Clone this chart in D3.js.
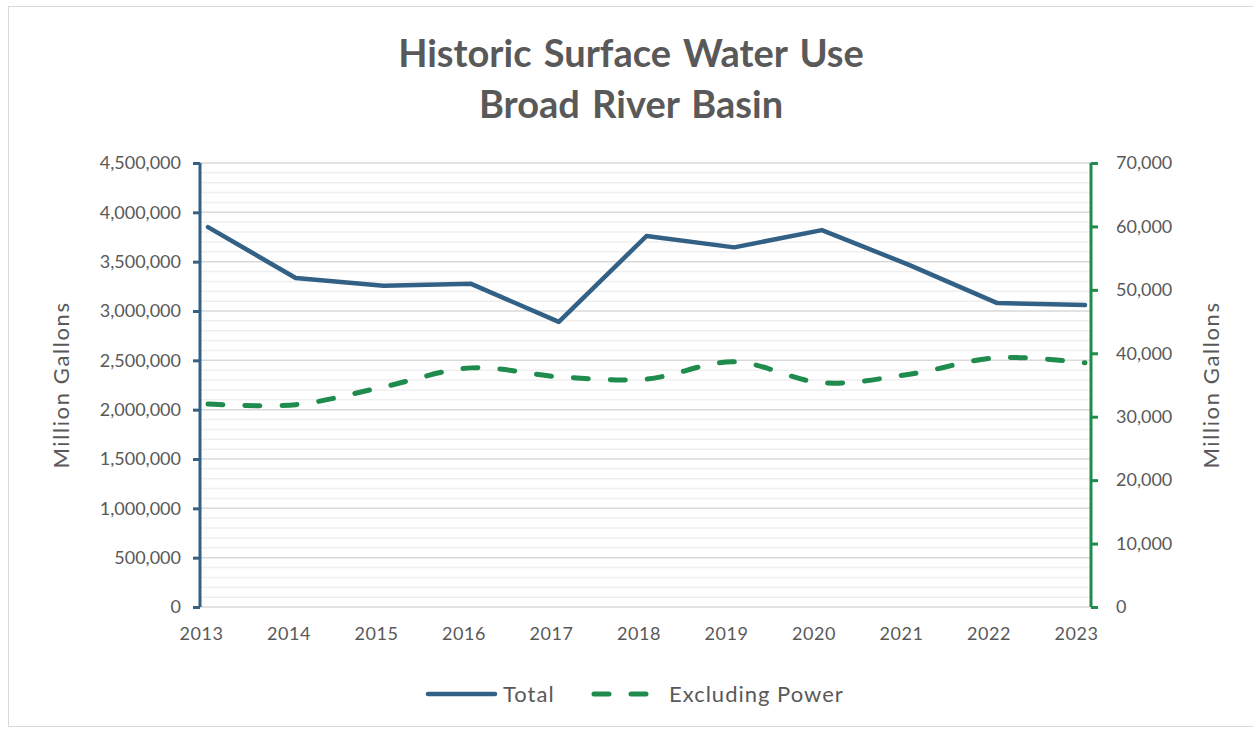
<!DOCTYPE html>
<html>
<head>
<meta charset="utf-8">
<script src="https://cdn.jsdelivr.net/npm/d3@7"></script>
<style>
  html, body { margin: 0; padding: 0; background: #fff; }
  svg { display: block; }
</style>
</head>
<body>
<svg id="chart" width="1253" height="730"></svg>
<script>
const years = ["2013","2014","2015","2016","2017","2018","2019","2020","2021","2022","2023"];
const totalUse = [3850000, 3335000, 3255000, 3275000, 2890000, 3760000, 3645000, 3820000, 3465000, 3080000, 3060000];
const exclPower = [32000, 31900, 34700, 37700, 36300, 35950, 38650, 35350, 36700, 39300, 38500];
const leftTicks = [0, 500000, 1000000, 1500000, 2000000, 2500000, 3000000, 3500000, 4000000, 4500000];
const rightTicks = [0, 10000, 20000, 30000, 40000, 50000, 60000, 70000];
const titleLines = ["Historic Surface Water Use", "Broad River Basin"];
const seriesNames = ["Total", "Excluding Power"];

const blue = "#336186", green = "#1F8B4C", textC = "#595959";
const font = "Lato, 'Open Sans', sans-serif";

const svg = d3.select("#chart");
const L = 200, R = 1091, T = 163, B = 607;

// border
svg.append("rect").attr("x", 8.5).attr("y", 6.5).attr("width", 1260).attr("height", 720)
  .attr("fill", "none").attr("stroke", "#d9d9d9").attr("stroke-width", 1);

// title
svg.selectAll("text.title").data(titleLines).join("text")
  .attr("class", "title")
  .attr("x", 631).attr("y", (d, i) => 67 + i * 51)
  .attr("text-anchor", "middle")
  .attr("font-family", font).attr("font-weight", "bold").attr("font-size", 38)
  .attr("word-spacing", 3)
  .attr("fill", textC).text(d => d);

const yL = d3.scaleLinear().domain([0, 4500000]).range([B, T]);
const yR = d3.scaleLinear().domain([0, 70000]).range([B, T]);
const xData = d3.scalePoint().domain(years).range([208, 1085]);
const xLab = d3.scalePoint().domain(years).range([201, 1076]);

// minor gridlines
const minor = d3.range(100000, 4500001, 100000).filter(v => v % 500000 !== 0);
svg.append("g").selectAll("line").data(minor).join("line")
  .attr("x1", L).attr("x2", R).attr("y1", d => yL(d)).attr("y2", d => yL(d))
  .attr("stroke", "#efefef").attr("stroke-width", 1.5);
svg.append("g").selectAll("line").data(leftTicks.filter(d => d > 0)).join("line")
  .attr("x1", L).attr("x2", R).attr("y1", d => yL(d)).attr("y2", d => yL(d))
  .attr("stroke", "#d9d9d9").attr("stroke-width", 1.5);
// bottom baseline
svg.append("line").attr("x1", L).attr("x2", R).attr("y1", B).attr("y2", B)
  .attr("stroke", "#d9d9d9").attr("stroke-width", 1.5);

// left axis
const gL = svg.append("g").attr("transform", `translate(${L},0)`)
  .call(d3.axisLeft(yL).tickValues(leftTicks).tickSize(7).tickPadding(12).tickFormat(d3.format(",")));
gL.select(".domain").attr("stroke", blue).attr("stroke-width", 3).attr("d", `M0,${T}V${B}`);
gL.selectAll(".tick line").attr("stroke", blue).attr("stroke-width", 3);
gL.selectAll(".tick text").attr("font-family", font).attr("font-size", 18).attr("fill", textC);

// right axis
const gR = svg.append("g").attr("transform", `translate(${R},0)`)
  .call(d3.axisRight(yR).tickValues(rightTicks).tickSize(7).tickPadding(18).tickFormat(d3.format(",")));
gR.select(".domain").attr("stroke", green).attr("stroke-width", 3).attr("d", `M0,${T}V${B}`);
gR.selectAll(".tick line").attr("stroke", green).attr("stroke-width", 3);
gR.selectAll(".tick text").attr("font-family", font).attr("font-size", 18).attr("fill", textC);

// x axis labels
const gX = svg.append("g").attr("transform", `translate(0,${B})`)
  .call(d3.axisBottom(xLab).tickSize(0).tickPadding(20));
gX.select(".domain").remove();
gX.selectAll(".tick text").attr("font-family", font).attr("font-size", 18)
  .attr("letter-spacing", 0.6).attr("fill", textC);

// axis titles
svg.append("text").attr("transform", "translate(69,385) rotate(-90)")
  .attr("text-anchor", "middle").attr("font-family", font).attr("font-size", 22)
  .attr("letter-spacing", 1.6).attr("fill", textC).text("Million Gallons");
svg.append("text").attr("transform", "translate(1219,385) rotate(-90)")
  .attr("text-anchor", "middle").attr("font-family", font).attr("font-size", 22)
  .attr("letter-spacing", 1.6).attr("fill", textC).text("Million Gallons");

// lines
const lineT = d3.line().x((d, i) => xData(years[i])).y(d => yL(d));
svg.append("path").datum(totalUse).attr("d", lineT)
  .attr("fill", "none").attr("stroke", blue).attr("stroke-width", 4.5)
  .attr("stroke-linejoin", "round").attr("stroke-linecap", "round");

const lineE = d3.line().x((d, i) => xData(years[i])).y(d => yR(d)).curve(d3.curveCatmullRom.alpha(0.5));
svg.append("path").datum(exclPower).attr("d", lineE)
  .attr("fill", "none").attr("stroke", green).attr("stroke-width", 5)
  .attr("stroke-dasharray", "15,22").attr("stroke-linecap", "round");

// legend
const lg = svg.append("g");
lg.append("line").attr("x1", 428).attr("x2", 495).attr("y1", 694).attr("y2", 694)
  .attr("stroke", blue).attr("stroke-width", 4.5).attr("stroke-linecap", "round");
lg.append("text").attr("x", 503).attr("y", 702).attr("font-family", font).attr("font-size", 22)
  .attr("letter-spacing", 1).attr("fill", textC).text(seriesNames[0]);
lg.append("line").attr("x1", 594).attr("x2", 648).attr("y1", 694).attr("y2", 694)
  .attr("stroke", green).attr("stroke-width", 5).attr("stroke-linecap", "round")
  .attr("stroke-dasharray", "15,22");
lg.append("text").attr("x", 669).attr("y", 702).attr("font-family", font).attr("font-size", 22)
  .attr("letter-spacing", 1).attr("fill", textC).text(seriesNames[1]);
</script>
</body>
</html>
